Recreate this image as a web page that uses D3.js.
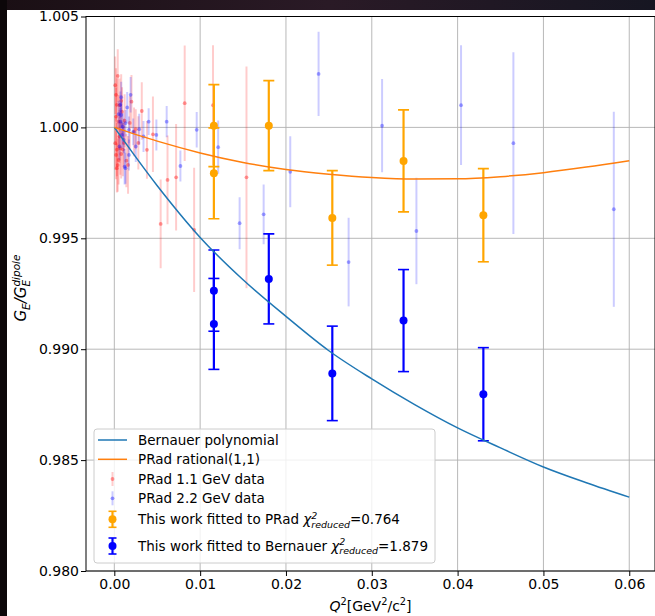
<!DOCTYPE html>
<html><head><meta charset="utf-8">
<script src="https://cdn.jsdelivr.net/npm/d3@7"></script>
<style>body{margin:0;background:#fff} svg{display:block} text{font-family:"DejaVu Sans",sans-serif; white-space:pre}</style>
</head><body><svg id="c" width="655" height="616"></svg>
<script>
// ---------- data ----------
const curveQ2 = [0, 0.005, 0.01, 0.015, 0.02, 0.025, 0.03, 0.035, 0.04, 0.045, 0.05, 0.055, 0.06];
const bernauerPoly = [1.0000, 0.99737, 0.99504, 0.99313, 0.99148, 0.98993, 0.98866, 0.98750, 0.98645, 0.98555, 0.98469, 0.98398, 0.98333];
const pradRational = [1.0000, 0.99938, 0.99885, 0.99842, 0.99810, 0.99789, 0.99774, 0.99767, 0.99768, 0.99778, 0.99796, 0.99821, 0.99850];

const red11Q2  = [0.0001,0.0001,0.0002,0.0002,0.0002,0.0003,0.0003,0.0003,0.0004,0.0004,0.0005,0.0005,0.0006,0.0006,0.0007,0.0008,0.0008,0.0009,0.0010,0.0011,0.0012,0.0014,0.0016,0.0018,0.0020,0.0023,0.0025,0.0028,0.0032,0.0038,0.0045,0.0054,0.0062,0.0072,0.0082,0.0093,0.0115,0.0154];
const red11Val = [0.99929,1.00190,1.00147,0.99876,1.00049,1.00102,0.99816,0.99900,1.00232,0.99830,1.00026,0.99853,0.99959,1.00100,0.99906,1.00120,0.99880,1.00071,0.99900,0.99930,1.00030,0.99850,0.99831,1.00020,1.00116,0.99980,0.99992,0.99930,1.00074,0.99899,0.99969,0.99565,0.99763,0.99775,1.00109,0.99538,1.00100,0.99775];
const red11Err = [0.0012,0.0013,0.0012,0.0011,0.0013,0.0012,0.0011,0.0012,0.0012,0.0012,0.0012,0.0011,0.0012,0.0012,0.0012,0.0012,0.0011,0.0011,0.0012,0.0011,0.0012,0.0012,0.0013,0.0012,0.0012,0.0011,0.0009,0.0012,0.0013,0.0013,0.0017,0.0020,0.0020,0.0024,0.0026,0.0028,0.0027,0.0050];

const blue22Q2  = [0.0005,0.0006,0.0007,0.0007,0.0008,0.0008,0.0009,0.0010,0.0011,0.0012,0.0013,0.0013,0.0015,0.0017,0.0017,0.0019,0.0022,0.0025,0.0029,0.0034,0.0040,0.0049,0.0061,0.0077,0.0096,0.0121,0.0146,0.0174,0.0205,0.0238,0.0273,0.0312,0.0352,0.0404,0.0465,0.0582];
const blue22Val = [1.00060,0.99914,1.00102,1.00026,1.00136,1.00056,0.99966,1.00004,0.99944,0.99823,1.00019,0.99816,1.00090,0.99989,0.99876,1.00147,0.99980,0.99914,0.99992,0.99959,1.00026,0.99966,1.00026,0.99826,0.99989,0.99911,0.99568,0.99608,0.99800,1.00241,0.99393,1.00008,0.99533,1.00100,0.99929,0.99631];
const blue22Err = [0.0006,0.0006,0.0006,0.0006,0.0007,0.0006,0.0006,0.0006,0.0006,0.0008,0.0006,0.0007,0.0007,0.0006,0.0007,0.0008,0.0006,0.0007,0.0007,0.0007,0.0006,0.0007,0.0007,0.0007,0.0008,0.0012,0.00117,0.00135,0.0016,0.0019,0.0020,0.0021,0.0024,0.0027,0.0041,0.0044];

const workQ2 = [0.0116, 0.0116, 0.0180, 0.0254, 0.0337, 0.0430];
const workPRad = [1.00008, 0.99793, 1.00008, 0.99592, 0.99849, 0.99604];
const workPRadErr = [0.00185, 0.00205, 0.00203, 0.00213, 0.0023, 0.0021];
const workBern = [0.99264, 0.99114, 0.99317, 0.98891, 0.99129, 0.98797];
const workBernErr = [0.00183, 0.00205, 0.00203, 0.00213, 0.0023, 0.0021];

const xTicks = [0, 0.01, 0.02, 0.03, 0.04, 0.05, 0.06];
const yTicks = [0.980, 0.985, 0.990, 0.995, 1.000, 1.005];

// ---------- layout ----------
const svg = d3.select("#c");
const L = 86, R = 655, T = 16.5, B = 571;
const x = d3.scaleLinear().domain([-0.0033, 0.0630]).range([L, R]);
const y = d3.scaleLinear().domain([0.980, 1.005]).range([B, T]);

// dark surround
const defs = svg.append("defs");
const grad = defs.append("linearGradient").attr("id","bg").attr("x1","0").attr("x2","1");
grad.append("stop").attr("offset","0").attr("stop-color","#1a0f14");
grad.append("stop").attr("offset","0.5").attr("stop-color","#2a1a26");
grad.append("stop").attr("offset","1").attr("stop-color","#161622");
svg.append("rect").attr("x",0).attr("y",0).attr("width",655).attr("height",10).attr("fill","url(#bg)");
svg.append("rect").attr("x",0).attr("y",0).attr("width",7).attr("height",616).attr("fill","#0c0709");

defs.append("clipPath").attr("id","clip").append("rect").attr("x",L).attr("y",T).attr("width",R-L).attr("height",B-T);

// grid
const grid = svg.append("g");
grid.selectAll(".gx").data(xTicks).enter().append("line")
  .attr("x1",d=>x(d)).attr("x2",d=>x(d)).attr("y1",T).attr("y2",B)
  .attr("stroke","#b0b0b0").attr("stroke-width",0.9);
grid.selectAll(".gy").data(yTicks).enter().append("line")
  .attr("x1",L).attr("x2",R).attr("y1",d=>y(d)).attr("y2",d=>y(d))
  .attr("stroke","#b0b0b0").attr("stroke-width",0.9);

const plot = svg.append("g").attr("clip-path","url(#clip)");

function dataSet(q, v, e, color, ba, da) {
  const g = plot.append("g");
  q.forEach((qq,i)=>{
    g.append("line").attr("x1",x(qq)).attr("x2",x(qq))
      .attr("y1",y(v[i]-e[i])).attr("y2",y(v[i]+e[i]))
      .attr("stroke",color).attr("stroke-opacity",ba).attr("stroke-width",2);
  });
  q.forEach((qq,i)=>{
    g.append("circle").attr("cx",x(qq)).attr("cy",y(v[i])).attr("r",1.9)
      .attr("fill",color).attr("fill-opacity",da);
  });
}
dataSet(red11Q2, red11Val, red11Err, "#ff0000", 0.2, 0.38);
dataSet(blue22Q2, blue22Val, blue22Err, "#0000ff", 0.2, 0.35);

function workSet(q, v, e, color) {
  const g = plot.append("g");
  q.forEach((qq,i)=>{
    const cx = x(qq);
    g.append("line").attr("x1",cx).attr("x2",cx).attr("y1",y(v[i]-e[i])).attr("y2",y(v[i]+e[i]))
      .attr("stroke",color).attr("stroke-width",2.2);
    [v[i]-e[i], v[i]+e[i]].forEach(yy=>{
      g.append("line").attr("x1",cx-5.5).attr("x2",cx+5.5).attr("y1",y(yy)).attr("y2",y(yy))
        .attr("stroke",color).attr("stroke-width",1.6);
    });
  });
  q.forEach((qq,i)=>{
    g.append("circle").attr("cx",x(qq)).attr("cy",y(v[i])).attr("r",4).attr("fill",color);
  });
}
workSet(workQ2, workPRad, workPRadErr, "#ffa500");
workSet(workQ2, workBern, workBernErr, "#0000ff");

const line = d3.line().x((d,i)=>x(curveQ2[i])).y(d=>y(d)).curve(d3.curveMonotoneX);
plot.append("path").attr("d",line(bernauerPoly)).attr("fill","none").attr("stroke","#1f77b4").attr("stroke-width",1.5);
plot.append("path").attr("d",line(pradRational)).attr("fill","none").attr("stroke","#ff7f0e").attr("stroke-width",1.5);

// axes
const xAxis = d3.axisBottom(x).tickValues(xTicks).tickFormat(d3.format(".2f")).tickSize(5).tickPadding(3);
const yAxis = d3.axisLeft(y).tickValues(yTicks).tickFormat(d3.format(".3f")).tickSize(5).tickPadding(2);
const gx = svg.append("g").attr("transform",`translate(0,${B})`).call(xAxis);
const gy = svg.append("g").attr("transform",`translate(${L},0)`).call(yAxis);
[gx,gy].forEach(g=>{
  g.select(".domain").remove();
  g.selectAll("text").attr("font-size",14).attr("fill","#000").attr("font-family","DejaVu Sans");
  g.selectAll("line").attr("stroke","#000").attr("stroke-width",1);
});
// spines
svg.append("rect").attr("x",L).attr("y",T).attr("width",R-L).attr("height",B-T)
  .attr("fill","none").attr("stroke","#000").attr("stroke-width",1);

// rich text helper
function rich(parent, x0, y0, parts, size, anchor) {
  const g = parent.append("g");
  let cx = 0;
  parts.forEach(p=>{
    if (p.t !== undefined) {
      const t = g.append("text").attr("x",cx).attr("y",0).attr("font-size",size)
        .attr("xml:space","preserve")
        .attr("font-style",p.i?"italic":"normal").text(p.t);
      cx += t.node().getComputedTextLength();
    } else {
      let w = 0;
      if (p.sup) {
        const t = g.append("text").attr("x",cx).attr("y",-0.42*size).attr("font-size",size*0.7)
          .attr("font-style",p.i?"italic":"normal").text(p.sup);
        w = Math.max(w, t.node().getComputedTextLength());
      }
      if (p.sub) {
        const t = g.append("text").attr("x",cx).attr("y",0.25*size).attr("font-size",size*0.7)
          .attr("font-style",p.i?"italic":"normal").text(p.sub);
        w = Math.max(w, t.node().getComputedTextLength());
      }
      cx += w;
    }
  });
  const off = anchor==="middle" ? -cx/2 : 0;
  g.attr("transform",`translate(${x0+off},${y0})`);
  return g;
}

// x label
rich(svg, (L+R)/2, 611, [{t:"Q",i:true},{sup:"2"},{t:"[GeV"},{sup:"2"},{t:"/c"},{sup:"2"},{t:"]"}], 14, "middle");
// y label
const yl = svg.append("g").attr("transform","translate(26,288) rotate(-90)");
rich(yl, 0, 0, [{t:"G",i:true},{sub:"E",i:true},{t:"/",i:true},{t:"G",i:true},{sub:"E",sup:"dipole",i:true}], 15, "middle");

// legend
const lg = svg.append("g");
lg.append("rect").attr("x",94).attr("y",429).attr("width",341).attr("height",134).attr("rx",3)
  .attr("fill","#fff").attr("fill-opacity",0.8).attr("stroke","#cccccc").attr("stroke-width",1);
const rows = [440, 459.3, 479, 498.3, 519.3, 546];
const hx0 = 98, hx1 = 127, hc = 112.5, tx = 138, fs = 13.5;
lg.append("line").attr("x1",hx0).attr("x2",hx1).attr("y1",rows[0]).attr("y2",rows[0]).attr("stroke","#1f77b4").attr("stroke-width",1.5);
lg.append("line").attr("x1",hx0).attr("x2",hx1).attr("y1",rows[1]).attr("y2",rows[1]).attr("stroke","#ff7f0e").attr("stroke-width",1.5);
[["#ff0000",rows[2]],["#0000ff",rows[3]]].forEach(([c,yy])=>{
  lg.append("line").attr("x1",hc).attr("x2",hc).attr("y1",yy-7).attr("y2",yy+7).attr("stroke",c).attr("stroke-opacity",0.2).attr("stroke-width",2);
  lg.append("circle").attr("cx",hc).attr("cy",yy).attr("r",1.9).attr("fill",c).attr("fill-opacity",0.38);
});
[["#ffa500",rows[4]],["#0000ff",rows[5]]].forEach(([c,yy])=>{
  lg.append("line").attr("x1",hc).attr("x2",hc).attr("y1",yy-8).attr("y2",yy+8).attr("stroke",c).attr("stroke-width",2.2);
  lg.append("line").attr("x1",hc-4).attr("x2",hc+4).attr("y1",yy-8).attr("y2",yy-8).attr("stroke",c).attr("stroke-width",1.6);
  lg.append("line").attr("x1",hc-4).attr("x2",hc+4).attr("y1",yy+8).attr("y2",yy+8).attr("stroke",c).attr("stroke-width",1.6);
  lg.append("circle").attr("cx",hc).attr("cy",yy).attr("r",4).attr("fill",c);
});
const labels = ["Bernauer polynomial","PRad rational(1,1)","PRad 1.1 GeV data","PRad 2.2 GeV data"];
labels.forEach((s,i)=>{
  rich(lg, tx, rows[i]+5, [{t:s}], fs);
});
rich(lg, tx, rows[4]+5, [{t:"This work fitted to PRad\u00a0"},{t:"χ",i:true},{sup:"2",sub:"reduced",i:true},{t:"=0.764"}], fs);
rich(lg, tx, rows[5]+5, [{t:"This work fitted to Bernauer\u00a0"},{t:"χ",i:true},{sup:"2",sub:"reduced",i:true},{t:"=1.879"}], fs);
</script></body></html>
